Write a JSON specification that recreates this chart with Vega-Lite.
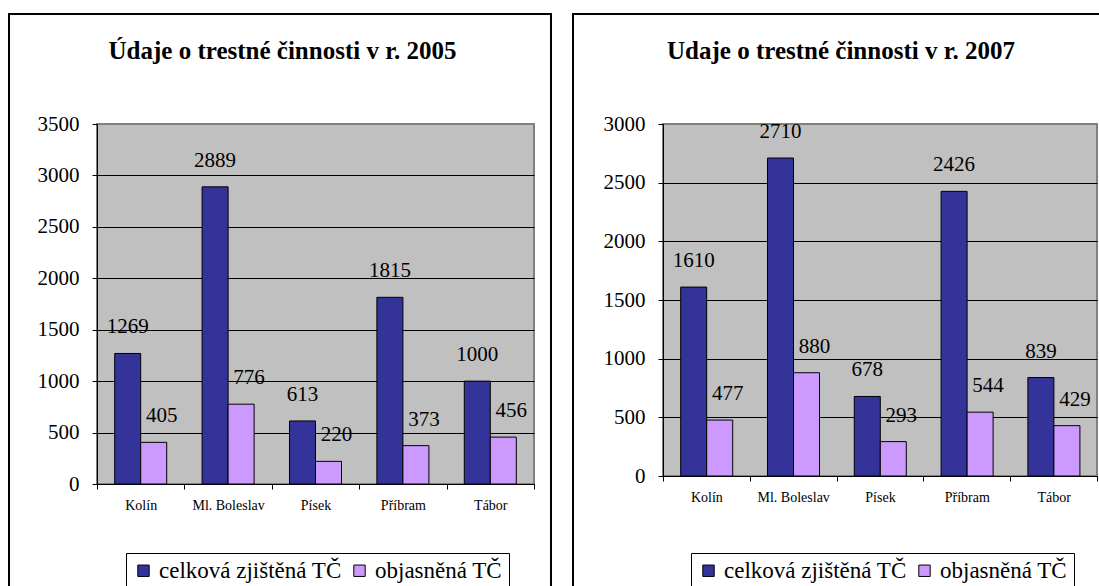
{
  "$schema": "https://vega.github.io/schema/vega-lite/v6.json",
  "padding": {"left": 7, "top": 12, "right": 0, "bottom": 0},
  "background": "white",
  "spacing": 18,
  "columns": 2,
  "resolve": {"scale": {"color": "independent"}, "legend": {"color": "independent"}},
  "datasets": {
    "d2005": [
      {"mesto": "Kolín", "serie": "celková zjištěná TČ", "pocet": 1269},
      {"mesto": "Kolín", "serie": "objasněná TČ", "pocet": 405},
      {"mesto": "Ml. Boleslav", "serie": "celková zjištěná TČ", "pocet": 2889},
      {"mesto": "Ml. Boleslav", "serie": "objasněná TČ", "pocet": 776},
      {"mesto": "Písek", "serie": "celková zjištěná TČ", "pocet": 613},
      {"mesto": "Písek", "serie": "objasněná TČ", "pocet": 220},
      {"mesto": "Příbram", "serie": "celková zjištěná TČ", "pocet": 1815},
      {"mesto": "Příbram", "serie": "objasněná TČ", "pocet": 373},
      {"mesto": "Tábor", "serie": "celková zjištěná TČ", "pocet": 1000},
      {"mesto": "Tábor", "serie": "objasněná TČ", "pocet": 456}
    ],
    "d2007": [
      {"mesto": "Kolín", "serie": "celková zjištěná TČ", "pocet": 1610},
      {"mesto": "Kolín", "serie": "objasněná TČ", "pocet": 477},
      {"mesto": "Ml. Boleslav", "serie": "celková zjištěná TČ", "pocet": 2710},
      {"mesto": "Ml. Boleslav", "serie": "objasněná TČ", "pocet": 880},
      {"mesto": "Písek", "serie": "celková zjištěná TČ", "pocet": 678},
      {"mesto": "Písek", "serie": "objasněná TČ", "pocet": 293},
      {"mesto": "Příbram", "serie": "celková zjištěná TČ", "pocet": 2426},
      {"mesto": "Příbram", "serie": "objasněná TČ", "pocet": 544},
      {"mesto": "Tábor", "serie": "celková zjištěná TČ", "pocet": 839},
      {"mesto": "Tábor", "serie": "objasněná TČ", "pocet": 429}
    ],
    "one": [{"id": 1}]
  },
  "concat": [
    {
      "width": 437,
      "height": 360,
      "title": {"text": "Údaje o trestné činnosti v r. 2005", "offset": -51, "dx": -33},
      "resolve": {"scale": {"x": "independent"}},
      "layer": [
        {
          "data": {"name": "one"},
          "mark": {"type": "rect", "filled": false, "stroke": "black", "strokeWidth": 2},
          "encoding": {
            "x": {"datum": -0.20137, "type": "quantitative", "scale": {"domain": [0, 1], "nice": false, "zero": false}, "axis": null},
            "x2": {"datum": 1.0389},
            "y": {"datum": 4569.4, "type": "quantitative", "scale": {"domain": [0, 3500], "nice": false, "zero": false}},
            "y2": {"datum": -1069.4}
          }
        },
        {
          "data": {"name": "d2005"},
          "encoding": {
            "x": {"field": "mesto", "type": "nominal", "sort": ["Kolín", "Ml. Boleslav", "Písek", "Příbram", "Tábor"], "scale": {"paddingInner": 0, "paddingOuter": 0}, "axis": {"title": null, "tickBand": "extent", "labelAngle": 0, "grid": false}},
            "xOffset": {"field": "serie", "type": "nominal", "scale": {"domain": ["celková zjištěná TČ", "objasněná TČ"], "paddingInner": 0, "paddingOuter": 0.68}},
            "y": {"field": "pocet", "type": "quantitative", "scale": {"domain": [0, 3500], "nice": false, "zero": false}, "axis": {"title": null, "format": "d", "values": [0, 500, 1000, 1500, 2000, 2500, 3000, 3500], "gridColor": {"condition": {"test": "datum.value >= 3500", "value": "#808080"}, "value": "black"}}}
          },
          "layer": [
            {
              "mark": {"type": "bar", "stroke": "black", "strokeWidth": 1},
              "encoding": {
                "color": {"field": "serie", "type": "nominal", "scale": {"domain": ["celková zjištěná TČ", "objasněná TČ"], "range": ["#333399", "#CC99FF"]}, "legend": {"orient": "none", "legendX": 29, "legendY": 429, "direction": "horizontal", "labelFont": "Liberation Serif", "labelFontSize": 23}}
              }
            },
            {
              "transform": [{"filter": "datum.serie === 'celková zjištěná TČ'"}],
              "mark": {"type": "text", "baseline": "alphabetic", "dy": -20, "font": "Liberation Serif", "fontSize": 21, "color": "black"},
              "encoding": {"text": {"field": "pocet", "type": "quantitative"}}
            },
            {
              "transform": [{"filter": "datum.serie === 'objasněná TČ'"}],
              "mark": {"type": "text", "baseline": "alphabetic", "dy": -20, "dx": 8, "font": "Liberation Serif", "fontSize": 21, "color": "black"},
              "encoding": {"text": {"field": "pocet", "type": "quantitative"}}
            }
          ]
        }
      ]
    },
    {
      "width": 434,
      "height": 352,
      "title": {"text": "Udaje o trestné činnosti v r. 2007", "offset": -51, "dx": -39},
      "resolve": {"scale": {"x": "independent"}},
      "layer": [
        {
          "data": {"name": "one"},
          "mark": {"type": "rect", "filled": false, "stroke": "black", "strokeWidth": 2},
          "encoding": {
            "x": {"datum": -0.20737, "type": "quantitative", "scale": {"domain": [0, 1], "nice": false, "zero": false}, "axis": null},
            "x2": {"datum": 1.02765},
            "y": {"datum": 3937.5, "type": "quantitative", "scale": {"domain": [0, 3000], "nice": false, "zero": false}},
            "y2": {"datum": -1005.7}
          }
        },
        {
          "data": {"name": "d2007"},
          "encoding": {
            "x": {"field": "mesto", "type": "nominal", "sort": ["Kolín", "Ml. Boleslav", "Písek", "Příbram", "Tábor"], "scale": {"paddingInner": 0, "paddingOuter": 0}, "axis": {"title": null, "tickBand": "extent", "labelAngle": 0, "grid": false}},
            "xOffset": {"field": "serie", "type": "nominal", "scale": {"domain": ["celková zjištěná TČ", "objasněná TČ"], "paddingInner": 0, "paddingOuter": 0.74}},
            "y": {"field": "pocet", "type": "quantitative", "scale": {"domain": [0, 3000], "nice": false, "zero": false}, "axis": {"title": null, "format": "d", "values": [0, 500, 1000, 1500, 2000, 2500, 3000], "gridColor": {"condition": {"test": "datum.value >= 3000", "value": "#808080"}, "value": "black"}}}
          },
          "layer": [
            {
              "mark": {"type": "bar", "stroke": "black", "strokeWidth": 1},
              "encoding": {
                "color": {"field": "serie", "type": "nominal", "scale": {"domain": ["celková zjištěná TČ", "objasněná TČ"], "range": ["#333399", "#CC99FF"]}, "legend": {"orient": "none", "legendX": 28, "legendY": 429, "direction": "horizontal", "labelFont": "Liberation Serif", "labelFontSize": 23}}
              }
            },
            {
              "transform": [{"filter": "datum.serie === 'celková zjištěná TČ'"}],
              "mark": {"type": "text", "baseline": "alphabetic", "dy": -20, "font": "Liberation Serif", "fontSize": 21, "color": "black"},
              "encoding": {"text": {"field": "pocet", "type": "quantitative"}}
            },
            {
              "transform": [{"filter": "datum.serie === 'objasněná TČ'"}],
              "mark": {"type": "text", "baseline": "alphabetic", "dy": -20, "dx": 8, "font": "Liberation Serif", "fontSize": 21, "color": "black"},
              "encoding": {"text": {"field": "pocet", "type": "quantitative"}}
            }
          ]
        }
      ]
    }
  ],
  "config": {
    "font": "Liberation Serif",
    "view": {"fill": "#C0C0C0", "stroke": "#808080", "strokeWidth": 2},
    "title": {"font": "Liberation Serif", "fontSize": 25, "fontWeight": "bold", "color": "black", "anchor": "middle"},
    "text": {"font": "Liberation Serif"},
    "axis": {
      "domainColor": "black",
      "domainWidth": 1,
      "tickColor": "black",
      "tickSize": 5,
      "gridColor": "black",
      "gridWidth": 1,
      "labelFont": "Liberation Serif",
      "labelColor": "black"
    },
    "axisY": {"labelFontSize": 21, "labelPadding": 13, "grid": true},
    "axisX": {"labelFontSize": 14, "labelPadding": 9},
    "legend": {
      "title": null,
      "labelFont": "Liberation Serif",
      "labelFontSize": 23,
      "labelLimit": 600,
      "labelColor": "black",
      "symbolType": "square",
      "symbolSize": 130,
      "symbolStrokeColor": "black",
      "symbolStrokeWidth": 1,
      "symbolOpacity": 1,
      "strokeColor": "black",
      "fillColor": "white",
      "padding": 6,
      "columnPadding": 6,
      "labelOffset": 4
    }
  }
}
